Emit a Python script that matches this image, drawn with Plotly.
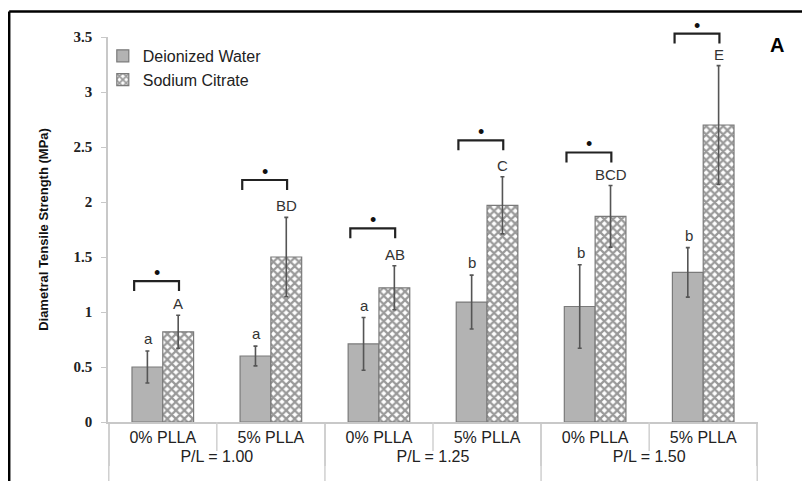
import plotly.graph_objects as go

outer = ["P/L = 1.00", "P/L = 1.00", "P/L = 1.25", "P/L = 1.25", "P/L = 1.50", "P/L = 1.50"]
inner = ["0% PLLA", "5% PLLA", "0% PLLA", "5% PLLA", "0% PLLA", "5% PLLA"]

dw_vals = [0.50, 0.60, 0.71, 1.09, 1.05, 1.36]
dw_err = [0.145, 0.09, 0.24, 0.245, 0.38, 0.225]
sc_vals = [0.82, 1.50, 1.22, 1.97, 1.87, 2.70]
sc_err = [0.15, 0.36, 0.20, 0.26, 0.28, 0.54]

dw_letters = ["a", "a", "a", "b", "b", "b"]
sc_letters = ["A", "BD", "AB", "C", "BCD", "E"]
bracket_y = [1.28, 2.20, 1.76, 2.56, 2.45, 3.53]

Y_MAX = 3.5

fig = go.Figure()
fig.add_trace(go.Bar(
    x=[outer, inner], y=dw_vals, name="Deionized Water",
    marker=dict(color="#b3b3b3", line=dict(color="#7a7a7a", width=1.2)),
    error_y=dict(type="data", array=dw_err, color="#555555", thickness=1.6, width=2),
))
fig.add_trace(go.Bar(
    x=[outer, inner], y=sc_vals, name="Sodium Citrate",
    marker=dict(color="white", line=dict(color="#7a7a7a", width=1.2),
                pattern=dict(shape="x", fgcolor="#333333", bgcolor="white", size=6, solidity=0.6)),
    error_y=dict(type="data", array=sc_err, color="#555555", thickness=1.6, width=2),
))

label_font = dict(family="Liberation Sans, Arial", size=15, color="#333333")
annotations = []
shapes = []
for i in range(6):
    dw_c = i - 0.135
    sc_c = i + 0.145
    annotations.append(dict(x=dw_c, y=dw_vals[i] + dw_err[i], xref="x", yref="y", text=dw_letters[i],
                            showarrow=False, xanchor="center", yanchor="bottom", yshift=2, font=label_font))
    annotations.append(dict(x=sc_c, y=sc_vals[i] + sc_err[i], xref="x", yref="y", text=sc_letters[i],
                            showarrow=False, xanchor="center", yanchor="bottom", yshift=1, font=label_font))
    # bracket (x in data units, y in paper fraction of the fixed 0..Y_MAX range so it is not clipped)
    bx0 = i - 0.265
    bx1 = i + 0.15
    by = bracket_y[i] / Y_MAX
    tick = 0.09 / Y_MAX
    shapes.append(dict(type="path", xref="x", yref="paper",
                       path=f"M {bx0},{by - tick} L {bx0},{by} L {bx1},{by} L {bx1},{by - tick}",
                       line=dict(color="#222222", width=2.2)))
    annotations.append(dict(x=(bx0 + bx1) / 2, y=by, xref="x", yref="paper", text="•",
                            showarrow=False, xanchor="center", yanchor="bottom", yshift=-4,
                            font=dict(family="Liberation Sans, Arial", size=18, color="#111111")))
    if i in (0, 2, 4):
        shapes.append(dict(type="line", xref="x", yref="paper", x0=i + 0.5, x1=i + 0.5,
                           y0=0, y1=-0.075, line=dict(color="#d0d0d0", width=1.5)))

# extend the group dividers to the bottom edge
for xb in (-0.5, 1.5, 3.5, 5.5):
    shapes.append(dict(type="line", xref="x", yref="paper", x0=xb, x1=xb, y0=-0.1, y1=-0.2,
                       line=dict(color="#d0d0d0", width=1.5)))

# outer frame
shapes.append(dict(type="line", xref="paper", yref="paper", x0=-0.152, x1=1.1, y0=1.066, y1=1.066,
                   line=dict(color="black", width=2.5)))
shapes.append(dict(type="line", xref="paper", yref="paper", x0=-0.152, x1=-0.152, y0=1.066, y1=-0.2,
                   line=dict(color="black", width=2.5)))

annotations.append(dict(x=1.029, y=0.979, xref="paper", yref="paper", text="<b>A</b>", showarrow=False,
                        xanchor="center", yanchor="middle",
                        font=dict(family="Liberation Sans, Arial", size=20, color="black")))

fig.update_layout(
    width=802, height=473,
    margin=dict(l=100, r=52, t=29, b=59),
    paper_bgcolor="white", plot_bgcolor="white",
    barmode="group", bargap=0.43, bargroupgap=0,
    showlegend=True,
    legend=dict(x=-0.008, y=0.995, xanchor="left", yanchor="top", bgcolor="rgba(0,0,0,0)",
                font=dict(family="Liberation Sans, Arial", size=16, color="#222222"),
                itemwidth=30, tracegroupgap=0),
    annotations=annotations, shapes=shapes,
    font=dict(family="Liberation Sans, Arial", color="#222222"),
)
fig.update_xaxes(
    type="multicategory", showline=True, linecolor="#c8c8c8", linewidth=1.5,
    showdividers=True, dividercolor="#d0d0d0", dividerwidth=1.5,
    tickfont=dict(family="Liberation Sans, Arial", size=16, color="#222222"),
    ticks="", showgrid=False,
)
fig.update_yaxes(
    range=[0, Y_MAX], dtick=0.5, showgrid=False, zeroline=False,
    showline=True, linecolor="#c8c8c8", linewidth=1.5,
    ticks="outside", ticklen=5, tickcolor="#c8c8c8", ticklabelstandoff=6,
    tickfont=dict(family="Liberation Serif, Times New Roman", size=15, color="#222222", weight="bold"),
    title=dict(text="<b>Diametral Tensile Strength (MPa)</b>", standoff=22,
               font=dict(family="Liberation Sans, Arial", size=13, color="#111111")),
)

fig.write_html("out.html")
